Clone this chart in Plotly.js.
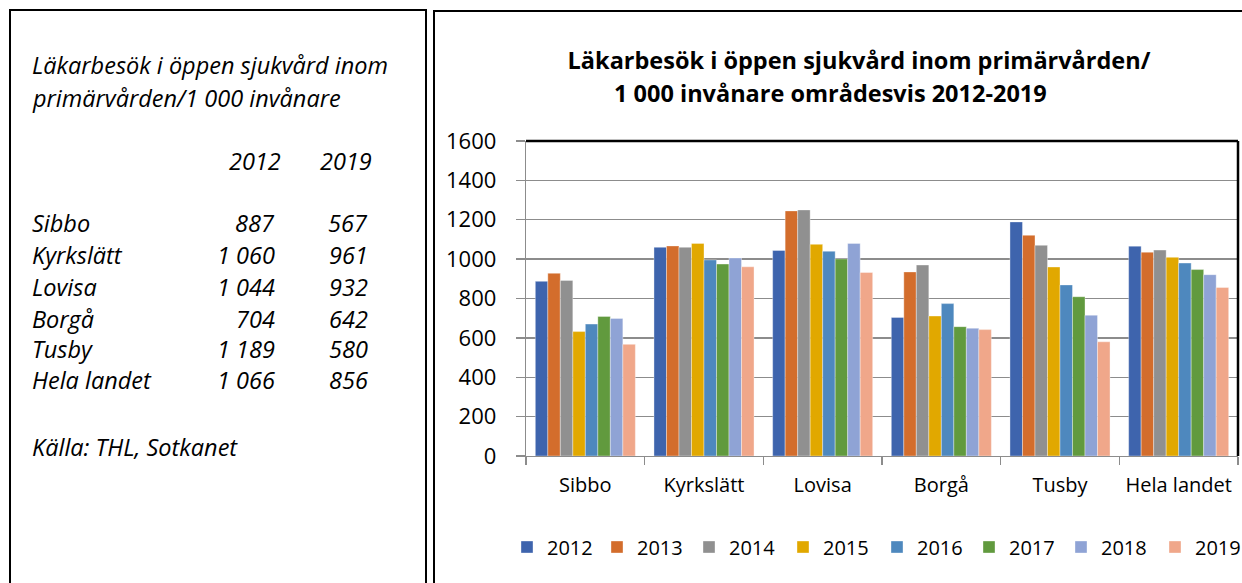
<!DOCTYPE html>
<html>
<head>
<meta charset="utf-8">
<script src="https://cdn.plot.ly/plotly-3.0.1.min.js"></script>
<style>html,body{margin:0;padding:0;background:#fff;}#chart{width:1242px;height:583px;}</style>
</head>
<body>
<div id="chart"></div>
<script>
// ---- data ----
var categories = ["Sibbo", "Kyrkslätt", "Lovisa", "Borgå", "Tusby", "Hela landet"];
var years = ["2012", "2013", "2014", "2015", "2016", "2017", "2018", "2019"];
var y2012 = [887, 1060, 1044, 704, 1189, 1066];
var y2013 = [928, 1067, 1245, 935, 1121, 1035];
var y2014 = [892, 1060, 1250, 970, 1070, 1046];
var y2015 = [632, 1080, 1075, 711, 960, 1009];
var y2016 = [670, 996, 1040, 774, 869, 980];
var y2017 = [709, 975, 1001, 657, 809, 947];
var y2018 = [699, 1006, 1080, 649, 715, 921];
var y2019 = [567, 961, 932, 642, 580, 856];
var yTicks = [0, 200, 400, 600, 800, 1000, 1200, 1400, 1600];
var chartTitle1 = "Läkarbesök i öppen sjukvård inom primärvården/";
var chartTitle2 = "1 000 invånare områdesvis 2012-2019";
var panelTitle1 = "Läkarbesök i öppen sjukvård inom";
var panelTitle2 = "primärvården/1 000 invånare";
var sourceText = "Källa: THL, Sotkanet";

// ---- styles ----
var colors = ["#3E64AD", "#D36D2C", "#909090", "#E1A800", "#4E88BE", "#619A3E", "#8FA3D5", "#F0A78A"];
var series = [y2012, y2013, y2014, y2015, y2016, y2017, y2018, y2019];
var FONT = "Open Sans, Noto Sans, sans-serif";
var GRID = "#8C8C8C";

// plot area in pixels
var L = 526, R = 1238, T = 141, B = 456, W = 1242, H = 583;
function px(x) { return (x - L) / (R - L); }
function py(y) { return (B - y) / (B - T); }
function fmt(n) { var s = String(n); return s.length > 3 ? s.slice(0, -3) + " " + s.slice(-3) : s; }

// legend key centres (pixels) – one small legend per series so spacing matches the reference
var legendKeyX = [528, 618, 710, 804, 898, 990, 1082, 1176];
var legendKeyY = 547;

function legendId(i) { return i === 0 ? "legend" : "legend" + (i + 1); }

var traces = series.map(function (vals, i) {
  return {
    type: "bar", name: years[i], x: categories, y: vals, legend: legendId(i),
    marker: { color: colors[i], line: { color: "rgba(255,255,255,0.6)", width: 0.6 } },
    hoverinfo: "x+y+name"
  };
});

var ann = [];
function addText(text, x, y, xanchor, size, opts) {
  opts = opts || {};
  ann.push({
    text: text, xref: "paper", yref: "paper", x: px(x), y: py(y),
    xanchor: xanchor, yanchor: "middle", showarrow: false, borderpad: 0,
    font: { family: FONT, size: size, color: "#000", style: opts.italic ? "italic" : "normal", weight: opts.bold ? 700 : 400 }
  });
}
// left panel
var LS = 23.5;
addText(panelTitle1, 31, 65, "left", LS, { italic: true });
addText(panelTitle2, 31, 98, "left", LS, { italic: true });
addText(years[0], 282, 161, "right", LS, { italic: true });
addText(years[7], 373, 161, "right", LS, { italic: true });
var rowY = [223, 255, 287, 318.5, 349, 380];
categories.forEach(function (c, i) {
  addText(c, 31, rowY[i], "left", LS, { italic: true });
  addText(fmt(y2012[i]), 276, rowY[i], "right", LS, { italic: true });
  addText(fmt(y2019[i]), 369, rowY[i], "right", LS, { italic: true });
});
addText(sourceText, 31, 447, "left", LS, { italic: true });
// chart title line 2
addText(chartTitle2, 830, 92.5, "center", 23.5, { bold: true });

var shapes = [
  { type: "rect", xref: "paper", yref: "paper", x0: px(10), x1: px(426), y0: py(10), y1: py(600), line: { color: "#000", width: 2 } },
  { type: "rect", xref: "paper", yref: "paper", x0: px(434), x1: px(1260), y0: py(11), y1: py(600), line: { color: "#000", width: 2 } },
  { type: "line", xref: "paper", yref: "paper", x0: 0, x1: 1, y0: 1, y1: 1, line: { color: "#000", width: 2.5 } },
  { type: "line", xref: "paper", yref: "paper", x0: 1, x1: 1, y0: 0, y1: 1, line: { color: "#000", width: 2.5 } }
];

var layout = {
  width: W, height: H,
  margin: { l: L, r: W - R, t: T, b: H - B, pad: 0, autoexpand: false },
  paper_bgcolor: "#fff", plot_bgcolor: "#fff",
  font: { family: FONT, color: "#000" },
  title: {
    text: chartTitle1, font: { family: FONT, size: 23.5, weight: 700, color: "#000" },
    xref: "paper", x: px(859), xanchor: "center", yref: "container", y: 1 - 61 / H, yanchor: "middle"
  },
  barmode: "group", bargap: 0.157, bargroupgap: 0,
  xaxis: {
    type: "category", tickson: "boundaries", ticks: "outside", ticklen: 8, tickcolor: GRID, tickwidth: 1.3,
    showline: true, linecolor: GRID, linewidth: 1.3, showgrid: false, tickangle: 0,
    tickfont: { family: FONT, size: 20, color: "#000" }, ticklabelstandoff: 11, fixedrange: true
  },
  yaxis: {
    range: [0, 1600], tickvals: yTicks, ticktext: yTicks.map(String),
    ticks: "outside", ticklen: 9, tickcolor: GRID, tickwidth: 1.3,
    showline: true, linecolor: GRID, linewidth: 1.3, showgrid: true, gridcolor: GRID, gridwidth: 1.3,
    zeroline: false, tickfont: { family: FONT, size: 22, color: "#000" }, ticklabelstandoff: 15, fixedrange: true
  },
  showlegend: true,
  shapes: shapes,
  annotations: ann
};

legendKeyX.forEach(function (cx, i) {
  layout[legendId(i)] = {
    orientation: "h", x: px(cx - 21), xanchor: "left", y: py(legendKeyY), yanchor: "middle",
    font: { family: FONT, size: 20, color: "#000" },
    itemclick: false, itemdoubleclick: false, bgcolor: "rgba(0,0,0,0)", borderwidth: 0
  };
});

Plotly.newPlot("chart", traces, layout, { displayModeBar: false, staticPlot: true });
</script>
</body>
</html>
